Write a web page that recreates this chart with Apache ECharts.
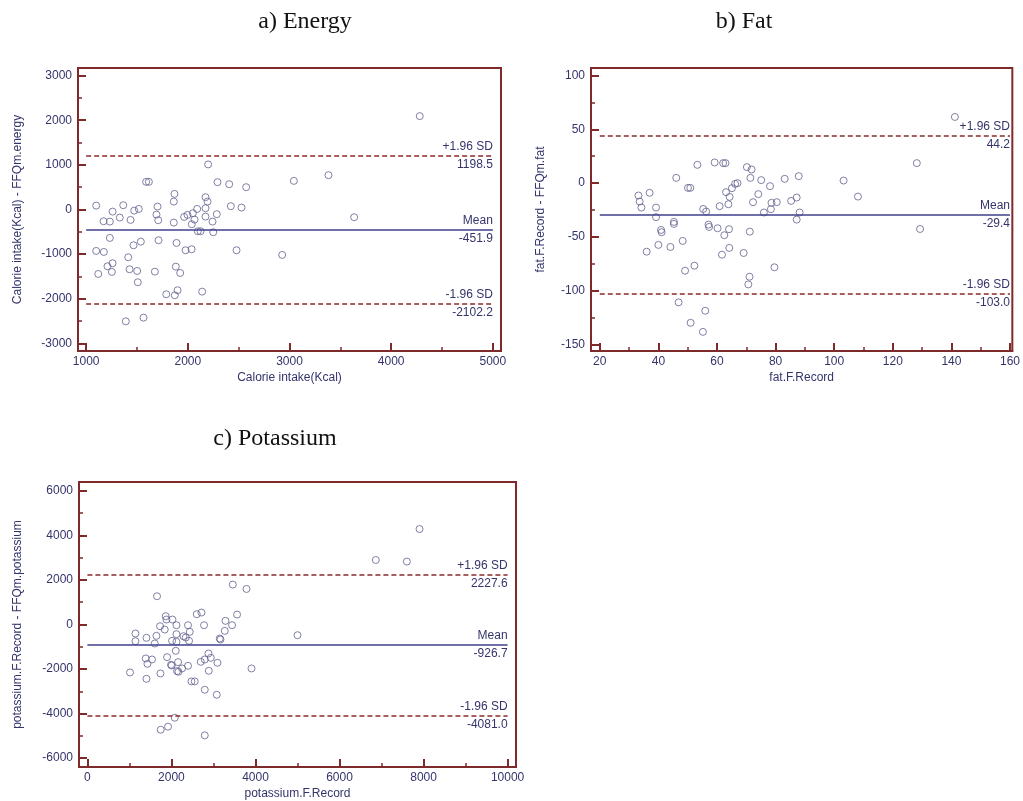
<!DOCTYPE html>
<html>
<head>
<meta charset="utf-8">
<script src="https://cdn.jsdelivr.net/npm/echarts@6/dist/echarts.min.js"></script>
<style>html,body{margin:0;padding:0;background:#fff}#c{width:1023px;height:801px}</style>
</head>
<body>
<div id="c"></div>
<script>
// ---------- data ----------
// a) Energy
const energyX = [2200,1590,1617,2292,2407,2574,3043,1869,1862,2174,2194,1099,1365,1260,1473,1518,1702,2423,2528,2092,2174,1171,1233,1331,1437,1692,1709,1862,1964,1997,2049,2039,2066,2174,2243,2285,2098,2125,2250,1233,1099,1174,1466,1538,1712,1889,1978,2037,2479,2928,1210,1260,1119,1253,1414,1427,1502,1508,1676,1882,1925,1788,1872,1899,2141,1390,1564,4281,3383,3636];
const energyDiff = [1010,620,620,612,567,500,641,350,177,276,177,87,96,-47,-25,13,65,74,43,13,29,-263,-271,-181,-233,-114,-240,-293,-166,-121,-83,-330,-226,-159,-271,-105,-487,-487,-509,-637,-928,-951,-801,-720,-689,-749,-913,-890,-913,-1018,-1272,-1204,-1444,-1399,-1070,-1339,-1377,-1630,-1392,-1280,-1422,-1899,-1922,-1810,-1840,-2505,-2423,2092,769,-173];
const energyStats = {mean:-451.9, upper:1198.5, lower:-2102.2};
const energyXTicks = [1000,2000,3000,4000,5000];
const energyXMinor = [1500,2500,3500,4500];
const energyYTicks = [-3000,-2000,-1000,0,1000,2000,3000];
const energyYMinor = [-2500,-1500,-500,500,1500,2500];

// b) Fat
const fatX = [53.3,59.2,62.1,62.9,70.2,71.8,46.1,50.1,50.9,37.0,33.2,33.6,34.2,39.2,55.3,56.3,60.9,63.9,63.1,64.3,65.1,66.2,67.0,71.4,75.1,78.1,74.1,72.3,83.1,87.9,85.3,87.2,78.6,80.4,78.4,76.0,88.2,39.2,45.3,45.3,40.9,41.1,36.0,40.0,44.1,48.3,49.1,52.3,46.9,51.0,56.0,55.2,57.1,57.3,60.2,62.5,64.1,61.7,64.2,69.1,71.2,71.1,70.7,79.6,87.2,141.2,128.2,103.2,108.1,129.3];
const fatDiff = [17.0,19.2,18.6,18.6,14.9,12.7,4.9,-4.4,-4.4,-9.0,-11.5,-17.1,-22.7,-22.7,-24.0,-26.4,-21.4,-19.6,-8.4,-12.8,-4.7,-0.7,0,4.9,2.8,-2.8,-10.2,-17.7,4.0,6.5,-16.5,-13.4,-18.3,-17.7,-24.2,-27.3,-27.3,-31.6,-36.0,-37.9,-43.5,-45.6,-63.7,-57.4,-59.3,-53.7,-81.4,-76.7,-110.8,-129.8,-118.6,-138.2,-38.5,-40.7,-41.9,-48.4,-42.8,-66.5,-60.2,-64.9,-45.1,-87.0,-94.1,-78.2,-33.9,61.5,18.6,2.4,-12.5,-42.6];
const fatStats = {mean:-29.4, upper:44.2, lower:-103.0};
const fatXTicks = [20,40,60,80,100,120,140,160];
const fatXMinor = [30,50,70,90,110,130,150];
const fatYTicks = [-150,-100,-50,0,50,100];
const fatYMinor = [-125,-75,-25,25,75];

// c) Potassium
const potX = [2602,2714,3562,1864,1881,2024,1729,1840,2119,2395,2436,2776,3286,3443,3269,2286,2341,2119,2419,2015,2119,1143,1143,1405,1643,1603,2103,3150,3167,5000,1388,1538,1429,1896,1014,1405,1738,1990,2007,2134,2167,2253,2395,2157,2698,2793,2881,2936,2888,3095,3905,2476,2555,2793,3079,2079,1745,1919,2793,3460,3786,1657,7904,6864,7602];
const potDiff = [462,537,447,372,223,223,-76,-226,-31,-31,-330,-31,163,-31,-286,-525,-584,-435,-734,-734,-779,-405,-749,-599,-510,-853,-1182,-629,-674,-480,-1526,-1571,-1765,-1466,-2154,-2438,-2198,-1810,-1840,-2094,-2124,-1974,-1855,-1690,-1676,-1571,-1302,-1496,-2079,-1720,-1974,-2557,-2557,-2930,-3155,-4187,-4725,-4590,-4979,1794,1596,1269,4287,2897,2825];
const potStats = {mean:-926.7, upper:2227.6, lower:-4081.0};
const potXTicks = [0,2000,4000,6000,8000,10000];
const potXMinor = [1000,3000,5000,7000,9000];
const potYTicks = [-6000,-4000,-2000,0,2000,4000,6000];
const potYMinor = [-5000,-3000,-1000,1000,3000,5000];

// ---------- styles ----------
const FRAME = '#7e2a2a';
const TXT = '#34346c';
const PT = '#62628e';
const MEAN = '#3f3f8e';
const SD = '#8a2b2b';
const SANS = 'Liberation Sans, Arial, sans-serif';

const panels = [
  {grid:{left:78, top:68, width:423, height:283}, xr:[920,5080], yr:[-3170,3170],
   xs:energyX, ys:energyDiff, st:energyStats, xt:energyXTicks, xm:energyXMinor, yt:energyYTicks, ym:energyYMinor,
   lineX:[1000,5000], xName:'Calorie intake(Kcal)', yName:'Calorie intake(Kcal) - FFQm.energy', yGap:54},
  {grid:{left:591, top:68, width:425, height:283}, xr:[17,160.8], yr:[-156,107],
   xs:fatX, ys:fatDiff, st:fatStats, xt:fatXTicks, xm:fatXMinor, yt:fatYTicks, ym:fatYMinor,
   lineX:[20,160], xName:'fat.F.Record', yName:'fat.F.Record - FFQm.fat', yGap:44},
  {grid:{left:79, top:482, width:437, height:286}, xr:[-200,10200], yr:[-6400,6400],
   xs:potX, ys:potDiff, st:potStats, xt:potXTicks, xm:potXMinor, yt:potYTicks, ym:potYMinor,
   lineX:[0,10000], xName:'potassium.F.Record', yName:'potassium.F.Record - FFQm.potassium', yGap:55}
];

const grids=[], xAxes=[], yAxes=[], series=[];
panels.forEach((p,i)=>{
  grids.push(Object.assign({show:true, borderColor:FRAME, borderWidth:2, backgroundColor:'#fff'}, p.grid));
  const mainAxis = (ticks, r, isX) => ({
    gridIndex:i, type:'value', min:r[0], max:r[1],
    position: isX ? 'bottom' : 'left',
    axisLine:{show:true, onZero:false, lineStyle:{color:FRAME, width:2}},
    axisTick:{show:true, inside:true, length:8, customValues:ticks, lineStyle:{color:FRAME, width:2}},
    axisLabel:{customValues:ticks, color:TXT, fontSize:12, fontFamily:SANS, margin:isX?5:6,
               formatter:(v)=>String(v)},
    splitLine:{show:false},
    name: isX ? p.xName : p.yName,
    nameLocation:'middle',
    nameGap: isX ? 21 : p.yGap,
    nameTextStyle:{color:TXT, fontSize:12, fontFamily:SANS}
  });
  const minorAxis = (ticks, r, isX) => ({
    gridIndex:i, type:'value', min:r[0], max:r[1],
    position: isX ? 'bottom' : 'left',
    axisLine:{show:false, onZero:false},
    axisTick:{show:true, inside:true, length:4, customValues:ticks, lineStyle:{color:FRAME, width:1.5}},
    axisLabel:{show:false}, splitLine:{show:false}
  });
  xAxes.push(mainAxis(p.xt, p.xr, true), minorAxis(p.xm, p.xr, true));
  yAxes.push(mainAxis(p.yt, p.yr, false), minorAxis(p.ym, p.yr, false));
  const x0=p.lineX[0], x1=p.lineX[1];
  const lab = (txt,pos)=>({show:true, formatter:txt, position:pos, color:TXT, fontSize:12, fontFamily:SANS, distance:[0,3]});
  const seg = (y, style, label)=>[{coord:[x0,y], lineStyle:style, label:label},{coord:[x1,y]}];
  const dashed = {color:SD, width:1.6, type:[5,3]};
  const solid = {color:MEAN, width:1.6, type:'solid'};
  const hidden = {color:'rgba(255,255,255,0)', width:0.1, type:'solid'};
  series.push({
    type:'scatter', xAxisIndex:2*i, yAxisIndex:2*i,
    data:p.xs.map((x,k)=>[x,p.ys[k]]),
    symbol:'circle', symbolSize:7,
    itemStyle:{color:'rgba(255,255,255,0)', borderColor:PT, borderWidth:1},
    z:3,
    markLine:{
      silent:true, symbol:'none', animation:false,
      data:[
        seg(p.st.upper, dashed, lab('+1.96 SD','insideEndTop')),
        seg(p.st.upper, hidden, lab(p.st.upper.toFixed(1),'insideEndBottom')),
        seg(p.st.mean, solid, lab('Mean','insideEndTop')),
        seg(p.st.mean, hidden, lab(p.st.mean.toFixed(1),'insideEndBottom')),
        seg(p.st.lower, dashed, lab('-1.96 SD','insideEndTop')),
        seg(p.st.lower, hidden, lab(p.st.lower.toFixed(1),'insideEndBottom'))
      ]
    }
  });
});

const titleStyle = {color:'#111', fontSize:24, fontWeight:'normal', fontFamily:'Liberation Serif, Times New Roman, serif'};
const chart = echarts.init(document.getElementById('c'), null, {renderer:'canvas'});
chart.setOption({
  backgroundColor:'#fff',
  animation:false,
  title:[
    {text:'a) Energy', left:300, top:5, textAlign:'center', textStyle:titleStyle},
    {text:'b) Fat', left:739, top:5, textAlign:'center', textStyle:titleStyle},
    {text:'c) Potassium', left:270, top:422, textAlign:'center', textStyle:titleStyle}
  ],
  grid:grids, xAxis:xAxes, yAxis:yAxes, series:series
});
</script>
</body>
</html>
